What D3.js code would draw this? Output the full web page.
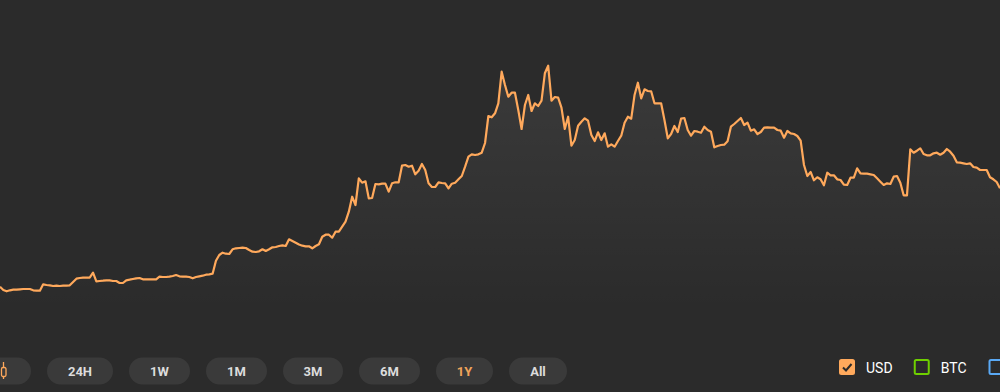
<!DOCTYPE html>
<html>
<head>
<meta charset="utf-8">
<script src="https://cdn.jsdelivr.net/npm/d3@7"></script>
<style>
html, body { margin: 0; padding: 0; background: #2b2b2b; overflow: hidden; }
svg { display: block; font-family: Roboto, sans-serif; }
</style>
</head>
<body>
<div id="chart"></div>
<script>
// price index, one value per step
const usd = [
    63.3,60,58.7,59.7,60.3,60.3,60.7,61,61,61,59.7,59.3,59.3,65.7,65,64.7,64,64.3,64,64.3,64.3,64.7,68,71.3,72,
    72.3,72.3,72.3,77.3,68.7,69,69.3,69.7,69.7,69,69,67,67,69.7,70.3,71,71.7,72,70.7,70.7,70.7,70.7,70.7,73.3,73,
    73,73.3,74,75,73.7,73.3,73.3,73,71.7,73,73.7,74.3,75.3,75.7,76.3,89.3,95,97.3,96.3,96,100.7,101.7,102,102.3,102,
    100,98.3,98,98.7,100.7,99,100.7,102.7,103,104,104.7,104,110.7,109,107.3,105.5,104.3,103.7,103.7,101.7,104,105.7,
    113.3,115.3,115.3,112.3,118.3,118.3,123.3,128.3,138.3,153.3,145,171.7,167.3,168.7,151.7,152,166,165.7,166.3,166.3,
    158.3,166.7,167.7,167.7,184.3,185,183.3,184.3,175.7,179.3,186,180,166.7,163,163,167.7,167,166.7,161.7,166.3,
    167.3,170.7,174,183.3,193.3,195.7,195,195.7,197.3,207,
    234,232.7,236.7,246.7,278.3,265,253.3,257.3,257.3,240,221,245,255,239,246.7,244,249.3,276.7,284.3,249.3,253,252.3,
    242.3,221,233.3,204.3,210,224.3,228.3,231.7,229.3,215,209,217.7,
    210,216.7,203.3,205.7,203.3,209,214.3,227.3,233.3,231.3,255,267.3,251.7,260.7,259,258.7,246.7,246.7,246.7,230,
    211.7,216,224,218,231.3,232,220,214.3,219,218.3,217.3,223.3,220,218.3,202.7,204,205,205.3,208.7,223.3,226,229,
    232,225,227.3,219.3,220.7,216,218,222.3,222.7,222.3,222.3,220,219.3,212.3,219,216.7,216,214,
    209.3,185,174,178,169.7,172.7,170.7,164.7,177.3,174.7,174.7,170.7,170,165.3,165,172.3,172.3,181.7,176.7,176.3,
    176.3,175.7,175,171.7,168.3,165,166.7,166,173.3,174,167.3,154.7,154.7,200.7,197.3,199.3,201.7,196,194.7,194.7,
    196.7,197.3,195.3,197.3,201,198.3,194.3,187.7,187.3,186.7,186,186.7,183,182.3,180,180,180,172.7,170.7,168,161.7
];
const ranges = ['24H', '1W', '1M', '3M', '6M', '1Y', 'All'];
const activeRange = '1Y';
const legendItems = ['USD', 'BTC', ''];
const legendColors = ['#ffa95c', '#6fd000', '#5aa9f5'];

const width = 1000, height = 392;
const orange = '#ffa95c';
// pill widths and gap as measured on the page
const btnWidths = [66, 61, 61, 60, 61, 57, 58];
const btnGap = 16;

let svg = d3.select('#chart')
    .append('svg')
    .attr('width', width)
    .attr('height', height);

// scales
let xScale = d3.scaleLinear()
    .domain([0, usd.length - 1])
    .range([0, width]);

let yScale = d3.scaleLinear()
    .domain([0, 350])
    .range([350, 0]);

let grad = svg.append('defs').append('linearGradient')
    .attr('id', 'areaFill')
    .attr('gradientUnits', 'userSpaceOnUse')
    .attr('x1', 0).attr('y1', 60)
    .attr('x2', 0).attr('y2', 310);
grad.append('stop').attr('offset', 0).attr('stop-color', '#fff').attr('stop-opacity', 0.075);
grad.append('stop').attr('offset', 1).attr('stop-color', '#fff').attr('stop-opacity', 0);

let area = d3.area()
    .x((d, i) => xScale(i))
    .y0(yScale(0))
    .y1(d => yScale(d));

let line = d3.line()
    .x((d, i) => xScale(i))
    .y(d => yScale(d));

svg.append('path')
    .datum(usd)
    .attr('d', area)
    .attr('fill', 'url(#areaFill)');

svg.append('path')
    .datum(usd)
    .attr('d', line)
    .attr('fill', 'none')
    .attr('stroke', orange)
    .attr('stroke-width', 2.2)
    .attr('stroke-linejoin', 'round');

// range buttons
let buttons = svg.append('g').attr('id', 'ranges');

// candlestick toggle, cut by the left edge
buttons.append('rect')
    .attr('x', -30).attr('y', 357.5)
    .attr('width', 61).attr('height', 27)
    .attr('rx', 13.5)
    .attr('fill', '#3a3a3a');
buttons.append('path')
    .attr('d', 'M3.5 362V367M3.5 377V379')
    .attr('stroke', orange)
    .attr('stroke-width', 1.3);
buttons.append('rect')
    .attr('x', 1.5).attr('y', 367.5)
    .attr('width', 4.5).attr('height', 9)
    .attr('rx', 1.5)
    .attr('fill', 'none')
    .attr('stroke', orange)
    .attr('stroke-width', 1.3);

let btnX = 47;
ranges.forEach((r, i) => {
    let g = buttons.append('g');
    g.append('rect')
        .attr('x', btnX)
        .attr('y', 357.5)
        .attr('width', btnWidths[i])
        .attr('height', 27)
        .attr('rx', 13.5)
        .attr('fill', '#3a3a3a');
    g.append('text')
        .attr('x', btnX + btnWidths[i] / 2)
        .attr('y', 376)
        .attr('text-anchor', 'middle')
        .attr('font-size', 13)
        .attr('font-weight', 700)
        .attr('fill', r === activeRange ? '#f0a45a' : '#dcdcdc')
        .text(r);
    btnX += btnWidths[i] + btnGap;
});

// legend checkboxes
let legend = svg.append('g').attr('id', 'legend');
let legendX = d3.scalePoint()
    .domain(legendItems)
    .range([839, 988.5]);

legend.selectAll('rect')
    .data(legendItems)
    .join('rect')
    .attr('x', d => legendX(d) + 1)
    .attr('y', 360)
    .attr('width', 14)
    .attr('height', 14)
    .attr('rx', 1.5)
    .attr('fill', (d, i) => i === 0 ? legendColors[0] : 'none')
    .attr('stroke', (d, i) => legendColors[i])
    .attr('stroke-width', 2);

legend.append('path')
    .attr('d', 'M843 367.5L846 370.5L851.5 364')
    .attr('fill', 'none')
    .attr('stroke', '#2b2b2b')
    .attr('stroke-width', 2);

legend.selectAll('text')
    .data(legendItems.filter(d => d))
    .join('text')
    .attr('x', d => legendX(d) + 27)
    .attr('y', 372.5)
    .attr('font-size', 14)
    .attr('fill', '#fff')
    .text(d => d);
</script>
</body>
</html>
